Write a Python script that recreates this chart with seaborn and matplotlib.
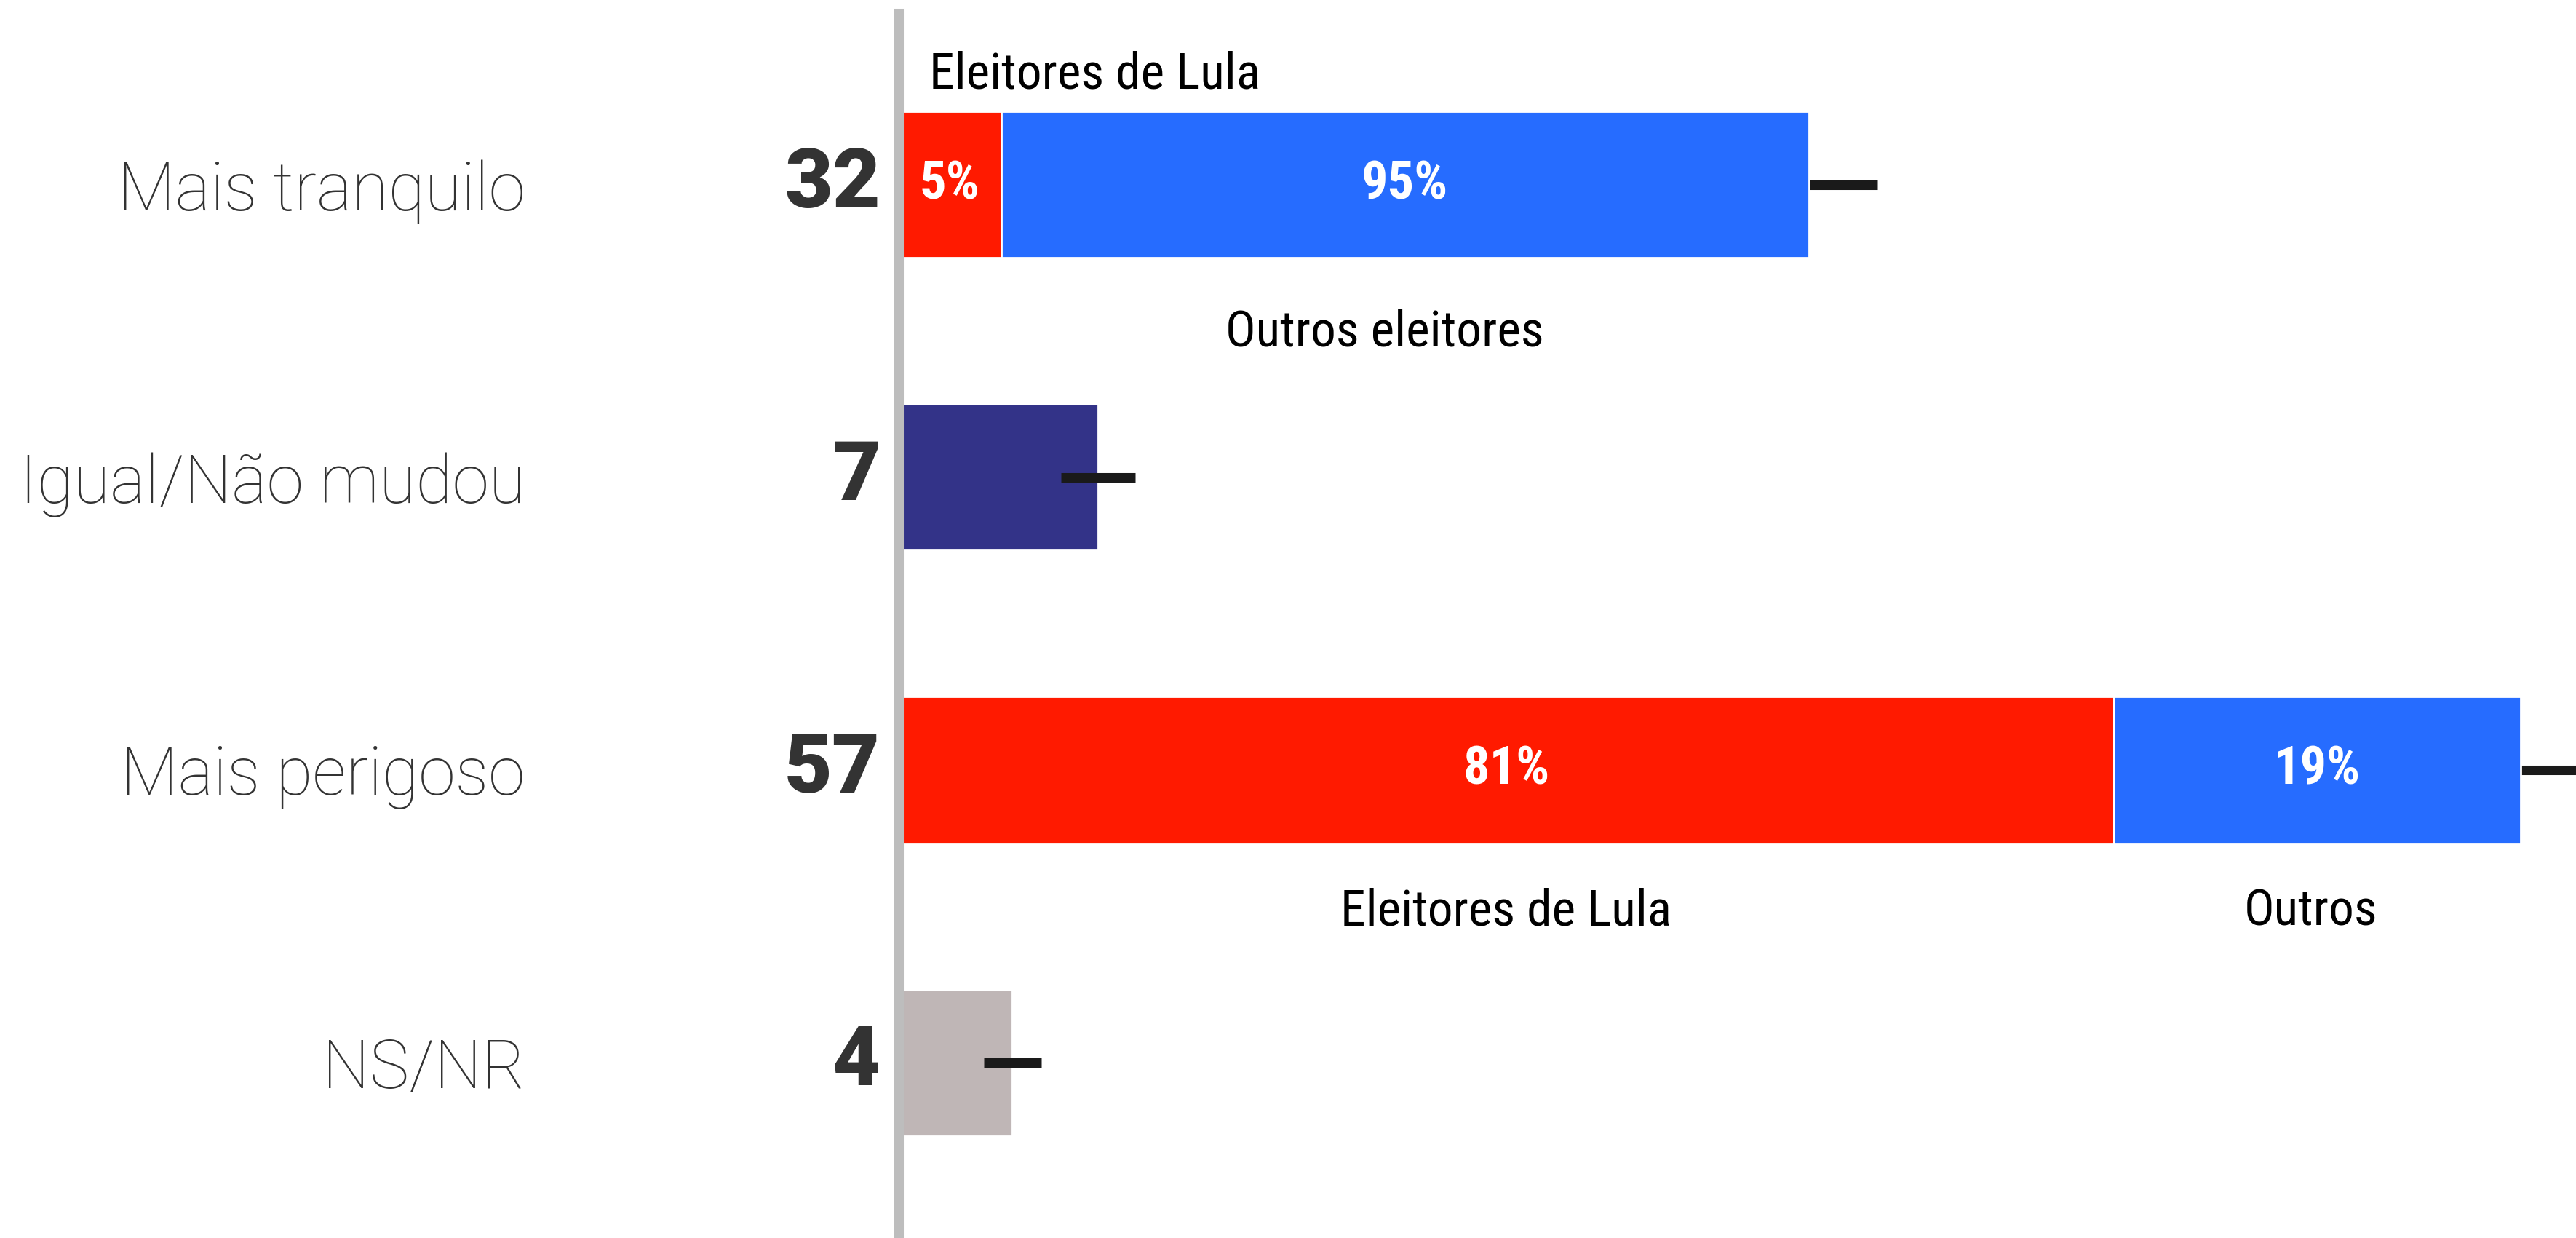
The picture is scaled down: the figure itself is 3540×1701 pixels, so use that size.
import matplotlib
matplotlib.use("Agg")
import matplotlib.pyplot as plt
import seaborn as sns
import pandas as pd

# ---- data ----
categories = ["Mais tranquilo", "Igual/Não mudou", "Mais perigoso", "NS/NR"]
totals = [32, 7, 57, 4]
errors = [2.4, 1.3, 2.4, 1.0]
bar_colors = ["#266cff", "#333388", "#266cff", "#bfb6b6"]

split_rows = ["Mais tranquilo", "Mais perigoso"]
lula_pct = [5, 81]
outros_pct = [95, 19]
lula_drawn = [3.6, 42.7]          # drawn length of the red segment
lula_names = ["Eleitores de Lula", "Eleitores de Lula"]
outros_names = ["Outros eleitores", "Outros"]

RED = "#ff1a00"
BLUE = "#266cff"
DARK = "#333333"

sns.set_theme(style="white")
plt.rcParams["font.family"] = ["Roboto", "DejaVu Sans"]

W, H, DPI = 3540, 1701, 200
fig = plt.figure(figsize=(W / DPI, H / DPI), dpi=DPI)
fig.patch.set_facecolor("white")

ax_left_px = 1235
ax = fig.add_axes([ax_left_px / W, 0, 1 - ax_left_px / W, (H - 18) / H])

df = pd.DataFrame({"cat": categories, "total": totals})
ypos = list(range(len(categories)))

sns.barplot(data=df, x="total", y="cat", hue="cat", palette=bar_colors,
            orient="h", legend=False, width=0.5, errorbar=None,
            saturation=1, ax=ax, zorder=1)

# error bars (over single bars, under the stacked segments)
ax.errorbar(totals, ypos, xerr=errors, fmt="none", ecolor="#1a1a1a",
            elinewidth=4.7, capsize=0, zorder=1.1)

narrow = dict(family=["Roboto Condensed", "DejaVu Sans"], stretch="condensed")

for row, lp, op, ld, ln, on in zip(split_rows, lula_pct, outros_pct,
                                   lula_drawn, lula_names, outros_names):
    i = categories.index(row)
    tot = totals[i]
    ax.barh(i, ld, height=0.5, color=RED, zorder=1.2)
    ax.barh(i, tot - ld, left=ld, height=0.5, color=BLUE, zorder=1.2)
    ax.text(ld / 2, i, f"{lp}%", ha="center", va="center", color="white",
            fontsize=26, fontweight="bold", zorder=3, **narrow)
    ax.text((ld + tot) / 2, i, f"{op}%", ha="center", va="center",
            color="white", fontsize=26, fontweight="bold", zorder=3, **narrow)
    if i == 0:
        ax.annotate(ln, xy=(0, i), xytext=(15, 54.7), textcoords="offset points",
                    ha="left", va="center", fontsize=25, color="black", **narrow)
        ax.annotate(on, xy=((ld + tot) / 2, i), xytext=(-10, -73),
                    textcoords="offset points", ha="center", va="center",
                    fontsize=25, color="black", **narrow)
    else:
        ax.annotate(ln, xy=(ld / 2, i), xytext=(0, -70),
                    textcoords="offset points", ha="center", va="center",
                    fontsize=25, color="black", **narrow)
        ax.annotate(on, xy=((ld + tot) / 2, i), xytext=(-3, -70),
                    textcoords="offset points", ha="center", va="center",
                    fontsize=25, color="black", **narrow)

# bold totals next to the axis
for i, v in enumerate(totals):
    ax.annotate(str(v), xy=(0, i), xytext=(-9, 0), textcoords="offset points",
                ha="right", va="center", fontsize=41, fontweight=900,
                color=DARK, family=["Roboto", "DejaVu Sans"])

# axis styling
px_per_unit = 39.1
ax.set_xlim(0, (W - ax_left_px) / px_per_unit)
top_i = (18 - 254) / 402
bot_i = (H - 254) / 402
ax.set_ylim(bot_i, top_i)
ax.set_xlabel("")
ax.set_ylabel("")
ax.set_xticks([])
ax.set_yticks(ypos)
ax.set_yticklabels(categories, fontsize=33, color="#333333", fontweight="light")
ax.tick_params(axis="y", length=0, pad=184.7)
for s in ["top", "right", "bottom"]:
    ax.spines[s].set_visible(False)
ax.spines["left"].set_color("#bdbdbd")
ax.spines["left"].set_linewidth(4.7)
ax.spines["left"].set_zorder(5)
ax.set_facecolor("white")

fig.savefig("out.png", dpi=DPI, facecolor="white")
